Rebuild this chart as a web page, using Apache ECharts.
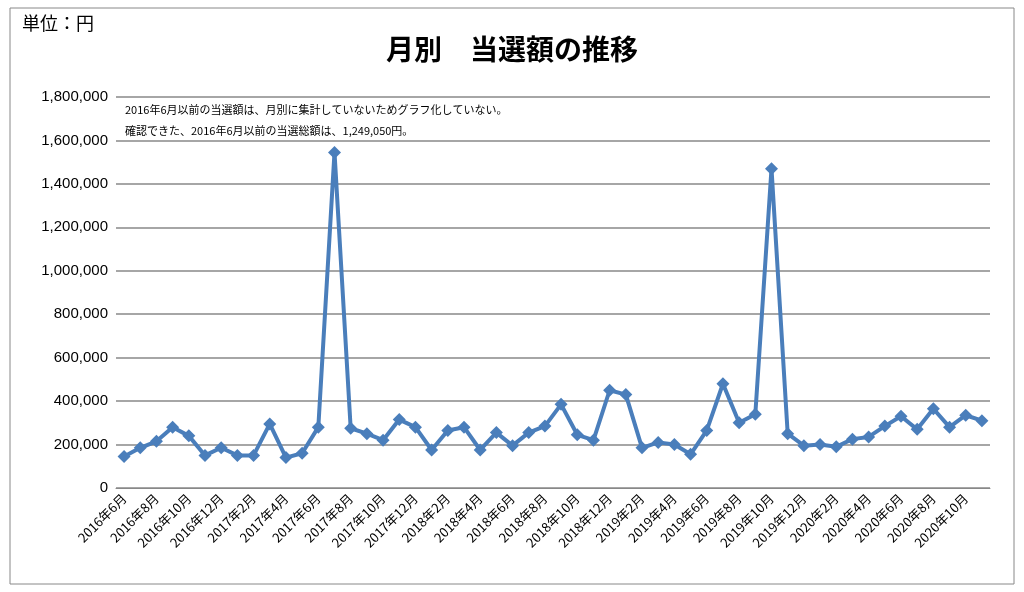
<!DOCTYPE html>
<html><head><meta charset="utf-8">
<script src="https://cdn.jsdelivr.net/npm/echarts@6/dist/echarts.min.js"></script>
<style>html,body{margin:0;background:#fff}#c{width:1024px;height:592px}</style>
</head><body><div id="c"></div>
<script>
const months = [];
for (let y = 2016; y <= 2020; y++) for (let m = 1; m <= 12; m++) {
  if ((y === 2016 && m < 6) || (y === 2020 && m > 11)) continue;
  months.push(y + '年' + m + '月');
}
const values = [145000,185000,215000,280000,240000,150000,185000,
150000,150000,295000,140000,160000,280000,1545000,275000,250000,220000,315000,280000,
175000,265000,280000,175000,255000,195000,255000,285000,385000,245000,220000,450000,
430000,185000,210000,200000,155000,265000,480000,300000,340000,1470000,250000,195000,
200000,190000,225000,235000,285000,330000,270000,365000,280000,335000,310000];
const notes = ['2016年6月以前の当選額は、月別に集計していないためグラフ化していない。',
'確認できた、2016年6月以前の当選総額は、1,249,050円。'];
const font = '"Noto Sans CJK JP", sans-serif';
const chart = echarts.init(document.getElementById('c'));
chart.setOption({
  animation: false,
  title: {text: '月別　当選額の推移', left: 'center', top: 30,
    textStyle: {fontFamily: font, fontSize: 28, fontWeight: 'bold', color: '#000'}},
  graphic: [
    {type: 'rect', shape: {x: 10, y: 8, width: 1004, height: 576}, style: {fill: 'none', stroke: '#888', lineWidth: 1}},
    {type: 'text', left: 22, top: 14, style: {text: '単位：円', font: '18px ' + font, fill: '#000'}},
    {type: 'text', left: 125, top: 104, style: {text: notes[0], font: '11px ' + font, fill: '#000'}},
    {type: 'text', left: 125, top: 125, style: {text: notes[1], font: '11px ' + font, fill: '#000'}}
  ],
  grid: {left: 116, right: 34, top: 97, bottom: 104},
  xAxis: {type: 'category', data: months, boundaryGap: ['1%','1%'],
    axisLine: {lineStyle: {color: '#888'}}, axisTick: {show: false},
    axisLabel: {interval: 1, rotate: 45, fontFamily: font, fontSize: 13, color: '#000'}},
  yAxis: {type: 'value', min: 0, max: 1800000, interval: 200000,
    axisLabel: {fontFamily: 'Liberation Sans, sans-serif', fontSize: 15, color: '#000',
      formatter: v => v.toLocaleString('en-US')},
    splitLine: {lineStyle: {color: '#888', width: 1.5}}},
  series: [{type: 'line', data: values, symbol: 'diamond', symbolSize: 13, showAllSymbol: true,
    lineStyle: {color: '#4a7ebb', width: 4}, itemStyle: {color: '#4a7ebb'}}]
});
</script></body></html>
